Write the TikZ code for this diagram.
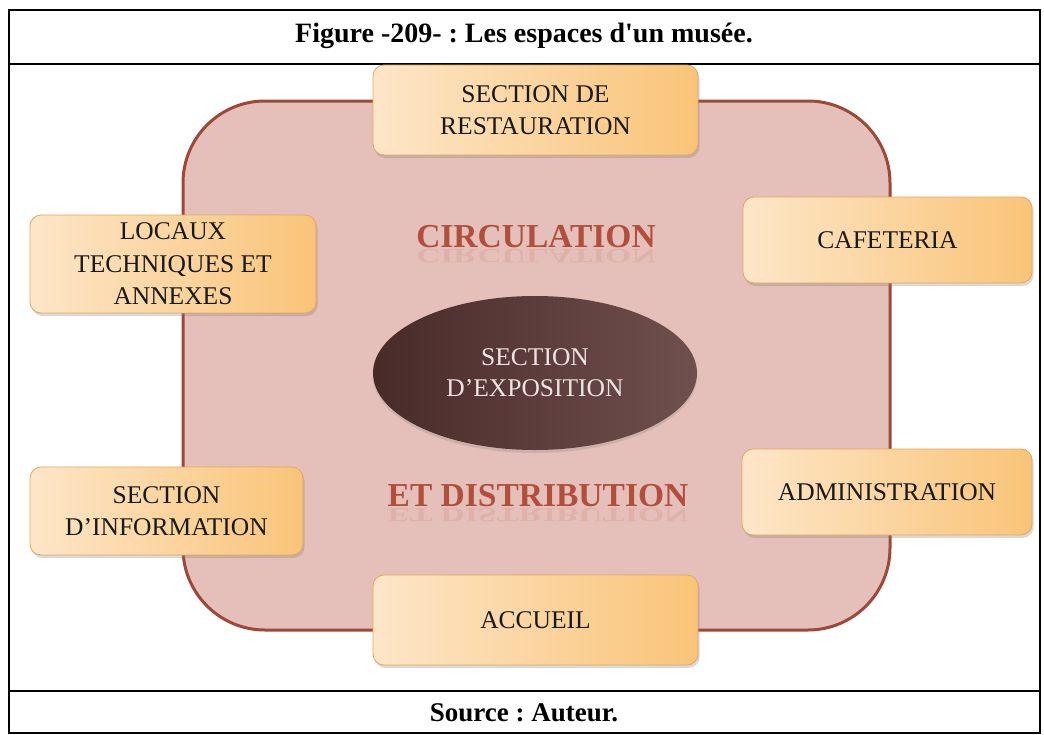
\documentclass[tikz,border=0pt]{standalone}
\usepackage{fontspec}
\setmainfont{Liberation Serif}
\usepackage{tikz}
\usetikzlibrary{shapes.geometric,shadows}
\usepackage{xcolor}
\definecolor{roomfill}{RGB}{229,191,185}
\definecolor{roomedge}{RGB}{158,72,56}
\definecolor{boxlight}{RGB}{253,230,200}
\definecolor{boxdark}{RGB}{249,196,120}
\definecolor{boxedge}{RGB}{226,168,92}
\definecolor{expodark}{RGB}{72,42,40}
\definecolor{expolight}{RGB}{112,80,78}
\definecolor{expotext}{RGB}{238,228,226}
\definecolor{circred}{RGB}{178,78,60}
\definecolor{boxtext}{RGB}{25,25,25}
\frenchspacing

\begin{document}
\begin{tikzpicture}[x=1pt, y=-1pt,
    spacebox/.style={rectangle, draw=boxedge, line width=0.8pt,
        left color=boxlight, right color=boxdark, rounded corners=11pt,
        align=center, text=boxtext, font=\fontsize{25.5}{32.5}\selectfont,
        inner sep=0pt, drop shadow={opacity=0.3, shadow xshift=1.5pt, shadow yshift=-3pt}},
    expo/.style={ellipse, left color=expodark, right color=expolight,
        minimum width=324pt, minimum height=154pt, align=center, text=expotext,
        font=\fontsize{25.5}{31}\selectfont,
        drop shadow={opacity=0.25, shadow xshift=0pt, shadow yshift=-3pt}},
    circtext/.style={text=circred, font=\bfseries\fontsize{33.5}{36}\selectfont, inner sep=0pt},
    mirror/.style={circtext, yscale=-0.6, opacity=0.12},
    frameline/.style={line width=1.8pt}
]
\useasboundingbox (0,0) rectangle (1044,734);
\draw[frameline] (9,10) rectangle (1040,733);
\draw[frameline] (9,64) -- (1040,64);
\draw[frameline] (9,691) -- (1040,691);
\node[font=\bfseries\fontsize{28}{30}\selectfont] (title) at (524,36)
    {Figure -209- : Les espaces d\textquotesingle un musée.};
\node[font=\bfseries\fontsize{27}{30}\selectfont] (source) at (524,713) {Source : Auteur.};

\filldraw[fill=roomfill, draw=roomedge, line width=3pt, rounded corners=82pt]
    (183,101) rectangle (890,630);

\node[circtext] (circ) at (536,237) {CIRCULATION};
\node[mirror] (circmirror) at (536,256) {CIRCULATION};
\node[circtext] (distrib) at (538,496) {ET DISTRIBUTION};
\node[mirror] (distribmirror) at (538,515) {ET DISTRIBUTION};

\node[expo] (expo) at (535,373) {SECTION\\D’EXPOSITION};

\node[spacebox, minimum width=325pt, minimum height=90pt] (restau) at (535.5,110) {SECTION DE\\RESTAURATION};
\node[spacebox, minimum width=286pt, minimum height=98pt] (locaux) at (173,264) {LOCAUX\\TECHNIQUES ET\\ANNEXES};
\node[spacebox, minimum width=289pt, minimum height=86pt] (cafet) at (887.5,240) {CAFETERIA};
\node[spacebox, minimum width=273pt, minimum height=88pt] (info) at (166.5,511) {SECTION\\D’INFORMATION};
\node[spacebox, minimum width=290pt, minimum height=86pt] (admin) at (887,492) {ADMINISTRATION};
\node[spacebox, minimum width=325pt, minimum height=90pt] (accueil) at (535.5,620) {ACCUEIL};
\end{tikzpicture}
\end{document}
